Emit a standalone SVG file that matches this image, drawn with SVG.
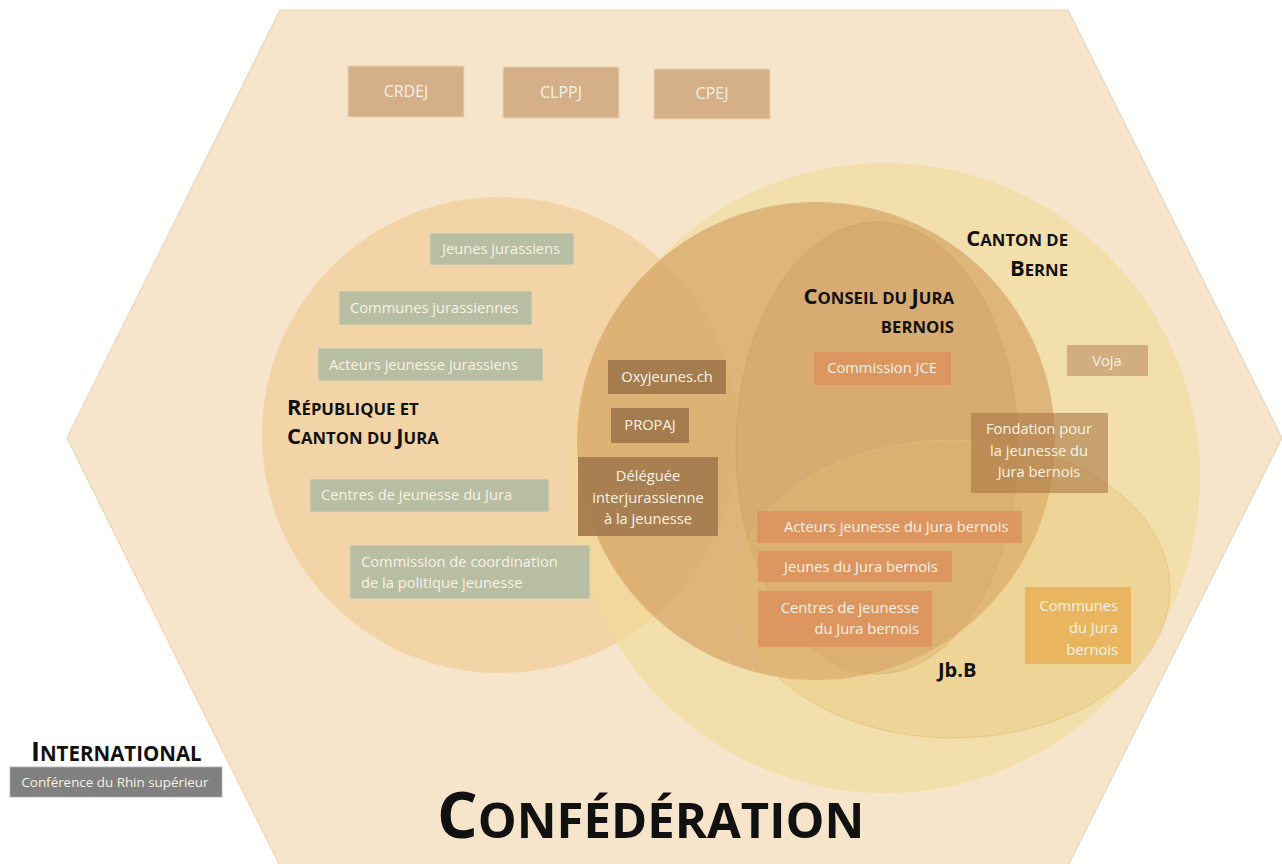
<svg xmlns="http://www.w3.org/2000/svg" width="1282" height="864" viewBox="0 0 1282 864">
<defs>
<style>
.t{font-family:"Open Sans","Noto Sans","Liberation Sans",sans-serif;font-size:14.7px;fill:#f8f2e6}
.h{font-family:"Open Sans","Noto Sans","Liberation Sans",sans-serif;font-weight:bold;fill:#111}
.big{font-size:22px}
.sm{font-size:16.7px}
.top{fill:#d4af87;stroke:#e9d3b3;stroke-width:1}
.grn{fill:#b8bea2;stroke:#e9d8bb;stroke-width:0.8}
.brn{fill:#a47c4e}
.org{fill:#dc955f;fill-opacity:0.95}
</style>
</defs>
<rect width="1282" height="864" fill="#ffffff"/>
<g id="confederation">
<polygon points="280,10 1068,10 1282,438 1068,866 280,866 67,438" fill="#f6e5ca" stroke="#e9cfad" stroke-width="1"/>
<text class="h" x="437" y="838" style="font-size:64px">C<tspan style="font-size:49px">ONFÉDÉRATION</tspan></text>
</g>
<g id="canton-jura-circle">
<circle cx="500" cy="435" r="238" fill="#f0c88f" fill-opacity="0.6"/>
</g>
<g id="canton-berne-circle">
<circle cx="885" cy="478" r="315" fill="#f2da96" fill-opacity="0.6"/>
</g>
<g id="conseil-circle">
<circle cx="816" cy="441" r="239" fill="#d09a5a" fill-opacity="0.6"/>
</g>
<g id="conseil-inner">
<ellipse cx="877" cy="448" rx="141" ry="226" fill="#c89660" fill-opacity="0.3" stroke="#cf9e68" stroke-opacity="0.6" stroke-width="1"/>
</g>
<g id="jbb-ellipse">
<ellipse cx="953" cy="589" rx="217" ry="149" fill="#e8be6e" fill-opacity="0.3" stroke="#e3bd7c" stroke-opacity="0.7" stroke-width="1"/>
</g>

<g id="crdej"><rect class="top" x="348" y="66" width="116" height="51"/><text class="t" x="406" y="97" text-anchor="middle" style="font-size:16px">CRDEJ</text></g>
<g id="clppj"><rect class="top" x="503" y="67" width="116" height="51"/><text class="t" x="561" y="98" text-anchor="middle" style="font-size:16px">CLPPJ</text></g>
<g id="cpej"><rect class="top" x="654" y="69" width="116" height="50"/><text class="t" x="712" y="99" text-anchor="middle" style="font-size:16px">CPEJ</text></g>

<g id="jeunes-jurassiens"><rect class="grn" x="430" y="233" width="144" height="32"/><text class="t" x="442" y="254">Jeunes jurassiens</text></g>
<g id="communes-jurassiennes"><rect class="grn" x="339" y="291" width="193" height="34"/><text class="t" x="350" y="313">Communes jurassiennes</text></g>
<g id="acteurs-jurassiens"><rect class="grn" x="318" y="348" width="225" height="33"/><text class="t" x="329" y="370">Acteurs jeunesse jurassiens</text></g>
<g id="centres-jura"><rect class="grn" x="310" y="479" width="239" height="33"/><text class="t" x="321" y="500">Centres de jeunesse du Jura</text></g>
<g id="commission-coordination"><rect class="grn" x="350" y="545" width="240" height="54"/><text class="t" x="361" y="567">Commission de coordination</text><text class="t" x="361" y="588">de la politique jeunesse</text></g>

<g id="label-jura"><text class="h" x="287" y="415"><tspan class="big">R</tspan><tspan class="sm">ÉPUBLIQUE ET</tspan></text><text class="h" x="287" y="444"><tspan class="big">C</tspan><tspan class="sm">ANTON DU </tspan><tspan class="big">J</tspan><tspan class="sm">URA</tspan></text></g>

<g id="oxyjeunes"><rect class="brn" x="608" y="360" width="118" height="34"/><text class="t" x="667" y="382" text-anchor="middle">Oxyjeunes.ch</text></g>
<g id="propaj"><rect class="brn" x="611" y="408" width="78" height="35"/><text class="t" x="650" y="430" text-anchor="middle">PROPAJ</text></g>
<g id="deleguee"><rect class="brn" x="578" y="457" width="140" height="79" fill-opacity="0.95"/><text class="t" x="648" y="481" text-anchor="middle">Déléguée</text><text class="t" x="648" y="503" text-anchor="middle">interjurassienne</text><text class="t" x="648" y="524" text-anchor="middle">à la jeunesse</text></g>

<g id="label-berne"><text class="h" x="1068" y="246" text-anchor="end"><tspan class="big">C</tspan><tspan class="sm">ANTON DE</tspan></text><text class="h" x="1068" y="276" text-anchor="end"><tspan class="big">B</tspan><tspan class="sm">ERNE</tspan></text></g>
<g id="label-conseil"><text class="h" x="954" y="304" text-anchor="end"><tspan class="big">C</tspan><tspan class="sm">ONSEIL DU </tspan><tspan class="big">J</tspan><tspan class="sm">URA</tspan></text><text class="h sm" x="954" y="333" text-anchor="end">BERNOIS</text></g>

<g id="commission-jce"><rect class="org" x="814" y="352" width="137" height="33"/><text class="t" x="882" y="373" text-anchor="middle">Commission JCE</text></g>
<g id="voja"><rect x="1067" y="345" width="81" height="31" fill="#cba478" fill-opacity="0.85"/><text class="t" x="1107" y="366" text-anchor="middle">Voja</text></g>
<g id="fondation"><rect x="971" y="413" width="137" height="80" fill="#a87744" fill-opacity="0.6"/><text class="t" x="1039" y="434" text-anchor="middle">Fondation pour</text><text class="t" x="1039" y="456" text-anchor="middle">la jeunesse du</text><text class="t" x="1039" y="477" text-anchor="middle">Jura bernois</text></g>
<g id="acteurs-jb"><rect class="org" x="757" y="511" width="265" height="32"/><text class="t" x="784" y="532">Acteurs jeunesse du Jura bernois</text></g>
<g id="jeunes-jb"><rect class="org" x="758" y="551" width="194" height="31"/><text class="t" x="784" y="572">Jeunes du Jura bernois</text></g>
<g id="centres-jb"><rect class="org" x="758" y="591" width="174" height="56"/><text class="t" x="919" y="613" text-anchor="end">Centres de jeunesse</text><text class="t" x="919" y="634" text-anchor="end">du Jura bernois</text></g>
<g id="communes-jb"><rect x="1025" y="587" width="106" height="77" fill="#e8b45c" fill-opacity="0.95"/><text class="t" x="1118" y="611" text-anchor="end">Communes</text><text class="t" x="1118" y="633" text-anchor="end">du Jura</text><text class="t" x="1118" y="655" text-anchor="end">bernois</text></g>
<g id="label-jbb"><text class="h" x="938" y="677" style="font-size:20px">Jb.B</text></g>

<g id="international"><text class="h" x="31" y="761"><tspan style="font-size:27px">I</tspan><tspan style="font-size:20.5px">NTERNATIONAL</tspan></text><rect x="10" y="767" width="212" height="30" fill="#808080" stroke="#b0b0b0" stroke-width="0.8"/><text class="t" x="115" y="787" text-anchor="middle" style="font-size:13.4px">Conférence du Rhin supérieur</text></g>
<g id="connectors"></g>
</svg>
